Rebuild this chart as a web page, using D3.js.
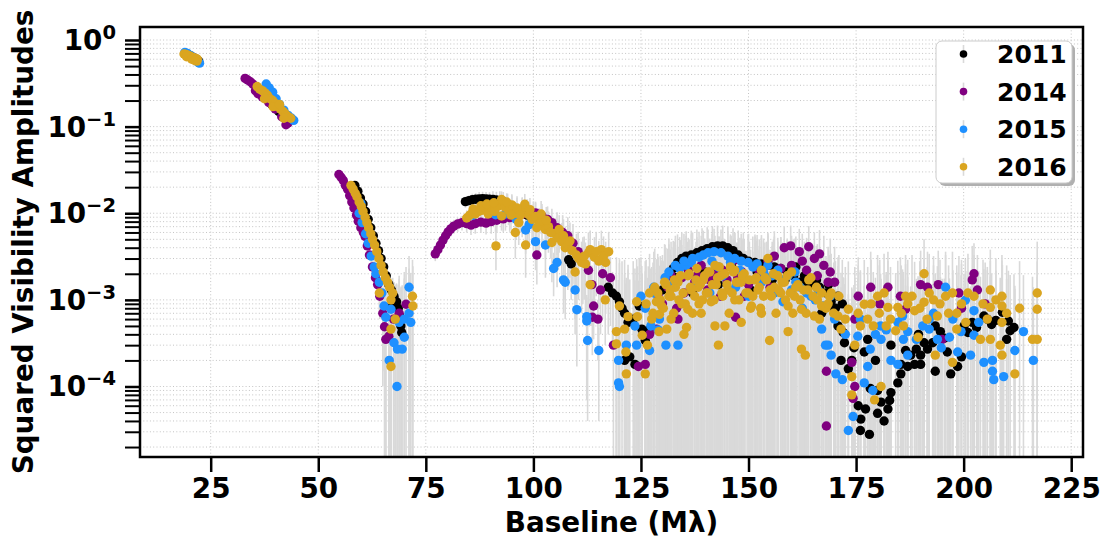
<!DOCTYPE html>
<html>
<head>
<meta charset="utf-8">
<script src="https://cdn.jsdelivr.net/npm/d3@7"></script>
<style>
  body { margin: 0; background: #fff; }
  text { font-family: "DejaVu Sans", sans-serif; font-weight: bold; fill: #000; }
</style>
</head>
<body>
<svg id="chart" width="1106" height="544"></svg>
<script>
// each point: [baseline (Mlambda), squared visibility, error]
const years = ["2011", "2014", "2015", "2016"];
const yearColors = ["#000000", "#800080", "#1e90ff", "#daa520"];
const xTicks = [25, 50, 75, 100, 125, 150, 175, 200, 225];
const yMajor = [1e-4, 1e-3, 1e-2, 1e-1, 1];
const yExponents = ["\u22124", "\u22123", "\u22122", "\u22121", "0"];

const data2011 = [
[19.3,0.69,0.02],[19.9,0.67,0.02],[20.5,0.65,0.02],[21.1,0.62,0.02],[21.7,0.6,0.02],[22.2,0.57,0.02],
[36.8,0.26,0.01],[37.6,0.23,0.01],[38.4,0.2,0.01],[39.2,0.18,0.01],[40,0.165,0.008],[40.8,0.15,0.008],[41.6,0.14,0.008],[42.4,0.13,0.008],
[58.5,0.021,0.001],[59.2,0.018,0.001],[59.8,0.015,0.001],[60.4,0.0128,0.0008],[61,0.0105,0.0008],[61.6,0.0085,0.0006],[62.2,0.0068,0.0005],[62.8,0.0055,0.0005],[63.4,0.0045,0.0004],[64,0.0037,0.0004],[64.6,0.003,0.0004],[65.2,0.0024,0.0003],[65.8,0.0019,0.0003],[66.4,0.0015,0.0004],[67,0.0013,0.0004],[67.6,0.0011,0.0005],[68.2,0.00095,0.0006],[68.6,0.0008,0.0007],[68.9,0.00065,0.0008],[69.2,0.0005,0.0009],[69.4,0.00042,0.001],[66.9,0.00085,0.0006],
[84.2,0.0136,0.002],[85,0.014,0.002],[85.8,0.0143,0.0025],[86.6,0.0145,0.0025],[87.4,0.0146,0.003],[88.2,0.0147,0.003],[89,0.0146,0.003],[89.8,0.0145,0.003],[90.6,0.0144,0.0035],[91.4,0.0142,0.0035],[92.2,0.014,0.004],[93,0.0136,0.004],[94,0.0128,0.004],[95,0.0121,0.0045],[96.2,0.0112,0.0045],[97.4,0.0103,0.005],[98.6,0.0095,0.005],[100,0.0087,0.005],
[108.2,0.0029,0.0015],[108.8,0.0026,0.0016],[117.4,0.0014,0.001],[118.4,0.0012,0.0009],[119.3,0.0011,0.002],[120,0.00095,0.002],[120.6,0.0008,0.002],[121.2,0.0007,0.0022],[122,0.00055,0.002],[123.2,0.0006,0.0022],[121.2,0.0002,0.0015],[122.4,0.00022,0.0015],[123.6,0.00018,0.0015],[126,0.00034,0.0018],[126.7,0.00044,0.002],[124.6,0.00085,0.0022],[125.2,0.00046,0.002],
[131.5,0.0019,0.0025],[132.5,0.0023,0.0025],[133.5,0.0027,0.003],[134.5,0.003,0.003],[135.5,0.0032,0.003],[136.7,0.0033,0.003],[138,0.0035,0.003],[139.2,0.0037,0.003],[140.4,0.0039,0.003],[141.6,0.0041,0.003],[142.8,0.0042,0.003],[144,0.0042,0.003],[145.2,0.004,0.003],[146.4,0.0037,0.003],[147.6,0.0033,0.003],[148.8,0.003,0.003],[150,0.0028,0.003],[151.5,0.0027,0.003],[153,0.0026,0.003],[154.5,0.0025,0.003],[156,0.0024,0.003],[157.5,0.0023,0.003],[159,0.0021,0.003],[160.5,0.0019,0.003],[162,0.0016,0.0025],[163.5,0.0015,0.0025],[165,0.0015,0.0025],[166.5,0.0014,0.0025],[168,0.0012,0.002],[169.2,0.00095,0.002],[170.2,0.0008,0.002],[137,0.0012,0.0025],[143,0.0015,0.0025],[150.5,0.0013,0.0025],[155.5,0.0017,0.0025],
[130,0.0013,0.002],[133,0.0018,0.0025],[139.8,0.0021,0.003],[146,0.0025,0.003],[152,0.0021,0.003],[158.5,0.0017,0.0025],[161,0.0024,0.003],[163,0.0019,0.0028],[165.8,0.0017,0.0025],[168.6,0.0015,0.0022],[170.8,0.0011,0.002],[171.8,0.0009,0.002],
[167,0.0007,0.0015],[169.2,0.00085,0.0018],[170.8,0.0005,0.0015],[171.5,0.0002,0.0012],[172.3,0.00032,0.0012],[173.2,0.00016,0.001],[174,0.0002,0.001],[175.5,0.00006,0.0009],[176.1,0.000042,0.0008],[176,0.000031,0.0008],[177.2,0.000055,0.0008],[178.1,0.000028,0.0008],[178.3,0.000095,0.0009],[180,0.000049,0.0008],[180,0.00009,0.0009],[180.8,0.000066,0.0009],[181.5,0.00004,0.0008],[182.4,0.000055,0.0009],[182.8,0.000069,0.0009],[183.1,0.000085,0.0009],[184.7,0.00011,0.001],[185.4,0.00014,0.001],[185.4,0.00018,0.001],[187,0.00017,0.001],[187.7,0.00023,0.0012],[188.6,0.00018,0.001],[189,0.00027,0.0012],[190,0.00018,0.001],[190,0.00023,0.0012],[191.6,0.00027,0.0012],[192.8,0.00032,0.0012],[193.4,0.00015,0.001],[194.6,0.00043,0.0014],[196.2,0.00025,0.0012],[197,0.00014,0.001],[198.6,0.00017,0.001],[199.5,0.00022,0.0012],[200.1,0.0005,0.0015],[202,0.00055,0.0015],[204.7,0.00065,0.0016],[205.5,0.0006,0.0016],[206.5,0.00052,0.0015],[210,0.00035,0.0014],[210.4,0.00057,0.0016],[210.8,0.00044,0.0015],[211.7,0.00048,0.0015],[177.7,0.00035,0.0012],[183.1,0.0003,0.0012],[176.9,0.00025,0.0012],[179.5,0.0002,0.001],[190.8,0.00032,0.0012],[193.4,0.0005,0.0015],
[172,0.00042,0.0014],[174.5,0.00028,0.0012],[186.5,0.00026,0.0012],[189.5,0.0004,0.0014],[195.5,0.00036,0.0014],[201,0.00042,0.0014],[203,0.00048,0.0015],[207.5,0.00058,0.0016],[209,0.00072,0.0018]
];

const data2014 = [
[19.5,0.68,0.02],[21,0.62,0.02],
[33,0.36,0.01],[33.6,0.345,0.01],[34.2,0.33,0.01],[34.8,0.31,0.01],[35.4,0.26,0.01],[36,0.24,0.01],[37,0.22,0.01],[38.5,0.19,0.01],[40,0.16,0.008],[41.5,0.13,0.008],[42.5,0.105,0.008],[43,0.11,0.008],
[54.8,0.028,0.001],[55.3,0.026,0.001],[55.8,0.024,0.001],[56.3,0.021,0.001],[56.8,0.019,0.001],[57.3,0.016,0.001],[57.8,0.0135,0.001],[58.3,0.0115,0.0008],[58.9,0.0095,0.0008],[59.3,0.0081,0.0007],[59.9,0.0068,0.0006],[60.5,0.006,0.0006],[60.9,0.0054,0.0005],[61.4,0.0042,0.0005],[61.9,0.0033,0.0004],[62.6,0.0024,0.0004],[63.3,0.0018,0.0004],[63.8,0.0015,0.0004],[64.3,0.0011,0.0005],[65,0.0007,0.0006],[65.4,0.00049,0.0007],[65.7,0.00035,0.0008],[66.4,0.00038,0.0008],[67.5,0.0006,0.001],[68.8,0.0007,0.0012],[70.4,0.00089,0.0015],
[77.2,0.0034,0.0006],[77.8,0.0038,0.0007],[78.4,0.0043,0.0008],[79,0.0049,0.0009],[79.6,0.0055,0.001],[80.2,0.0061,0.0011],[80.8,0.0066,0.0012],[81.5,0.0071,0.0013],[82.4,0.0075,0.0014],[83.4,0.0078,0.0015],[84.5,0.0076,0.0016],[85.5,0.0073,0.0017],[86.5,0.0076,0.0018],[87.8,0.0079,0.002],[89,0.0077,0.002],[90.2,0.008,0.0022],[91.5,0.0083,0.0024],[93,0.0086,0.0026],[94.5,0.0089,0.0028],[96,0.0093,0.003],[97.5,0.0098,0.0032],[99,0.0102,0.0034],[100.5,0.0101,0.0035],[100.8,0.0033,0.0018],[102,0.0093,0.0035],[103.3,0.0085,0.0035],[104.3,0.0078,0.0035],[105.5,0.0068,0.0035],[106.8,0.006,0.0035],[108,0.0055,0.0035],[109.2,0.0045,0.003],[110.4,0.0036,0.0025],[111.5,0.0031,0.0022],[112.8,0.0022,0.0015],[113.6,0.0015,0.001],[113.7,0.00063,0.0004],[114,0.00085,0.0005],[115,0.0006,0.0004],[115.6,0.0013,0.0009],[116.1,0.002,0.0014],[117.9,0.0018,0.0013],[118.6,0.0003,0.0015],
[124.4,0.00017,0.0015],[126,0.00018,0.0015],[127,0.0004,0.0018],[128.6,0.00046,0.0018],[130,0.0009,0.002],[131.2,0.0014,0.0025],[133.3,0.0008,0.002],[133.6,0.0006,0.002],[134.5,0.0018,0.0025],[136,0.0022,0.003],[137.5,0.0016,0.0025],[139,0.0025,0.003],[140.5,0.0013,0.0025],[142,0.002,0.003],[143.5,0.0011,0.0025],[145,0.0017,0.0025],[146.8,0.0029,0.003],[147,0.00063,0.002],[148.5,0.0021,0.003],[150,0.0015,0.0025],[151.5,0.0024,0.003],[153,0.0018,0.003],[154.5,0.0028,0.003],[156,0.0032,0.003],[157.5,0.0023,0.003],[158.3,0.004,0.003],[159.8,0.0042,0.003],[161.8,0.0036,0.003],[162.5,0.0028,0.003],[164,0.0041,0.003],[165.3,0.003,0.003],[166.5,0.0034,0.003],[166,0.0019,0.0025],[168.1,0.000035,0.0006],[168.1,0.00015,0.0012],[168.5,0.0016,0.0025],[170,0.0016,0.0025],
[129,0.0011,0.002],[132,0.0019,0.0028],[135,0.0012,0.0022],[138,0.0019,0.0028],[141,0.0017,0.0025],[144,0.0022,0.003],[147.5,0.0018,0.0028],[149,0.0011,0.002],[152.5,0.002,0.003],[155,0.0014,0.0022],[160,0.0025,0.003],[163.5,0.0022,0.003],[167.5,0.0025,0.003],[169,0.0021,0.003],
[174,0.00019,0.0012],[174.7,0.0001,0.001],[174.3,0.000073,0.0009],[174.7,0.0006,0.0018],[175.5,0.0011,0.002],[178.4,0.0014,0.0022],[180.5,0.0009,0.002],[182.4,0.0014,0.0022],[185.3,0.0011,0.002],[186.5,0.00078,0.0018],[190,0.0015,0.0022],[191.6,0.0014,0.0022],[194.1,0.0015,0.0022],[195,0.00035,0.0014],[198.9,0.0012,0.002],[199.5,0.0008,0.0018],[202,0.0017,0.0025],[202.4,0.002,0.0025],[203.2,0.0013,0.002],[205,0.0009,0.0018]
];

const data2015 = [
[19,0.72,0.02],[19.6,0.7,0.02],[20.3,0.66,0.02],[21,0.62,0.02],[21.6,0.59,0.02],[22.1,0.55,0.02],[22.4,0.54,0.02],
[37.9,0.31,0.01],[38.6,0.28,0.01],[39.4,0.25,0.01],[40.2,0.21,0.01],[41,0.18,0.008],[42,0.155,0.008],[43,0.135,0.008],[43.8,0.125,0.008],[44.3,0.118,0.008],
[59.5,0.01,0.0008],[59.9,0.013,0.001],[60.2,0.0078,0.0007],[61,0.0058,0.0006],[61.6,0.0045,0.0005],[62.3,0.0032,0.0005],[63,0.0024,0.0005],[63.4,0.002,0.0005],[64.2,0.0016,0.0005],[64.8,0.0012,0.0006],[65.3,0.00085,0.0007],[65.7,0.00063,0.0008],[66.5,0.0002,0.0008],[66.9,0.00078,0.001],[67.6,0.00032,0.001],[68.3,0.0001,0.0007],[68.4,0.00027,0.001],[68.8,0.00055,0.0012],[69.5,0.00027,0.0012],[70,0.0006,0.0015],[70,0.00037,0.0014],[71.1,0.0014,0.0018],[71.1,0.0007,0.0016],[71.5,0.00055,0.0015],
[86,0.0095,0.003],[90,0.0105,0.0035],[91.2,0.0096,0.0035],[93.5,0.0098,0.0035],[96,0.0085,0.0035],[98.2,0.0064,0.003],[99,0.0074,0.003],[100.5,0.0047,0.0025],[102.8,0.0043,0.0025],[104.7,0.0023,0.0012],[105.5,0.0027,0.0013],[107,0.0017,0.001],[107.4,0.0016,0.001],[109.7,0.0013,0.0009],[110.1,0.00077,0.0006],[112.4,0.00064,0.0005],[112.4,0.00057,0.0005],[112.6,0.00034,0.0003],[115.2,0.00026,0.00022],
[119.8,0.0002,0.0015],[119.8,0.00011,0.0012],[120,0.0001,0.0012],[121.6,0.0003,0.0015],[123.6,0.0005,0.0018],[124,0.0003,0.0015],[127,0.00026,0.0015],[127.3,0.0005,0.0018],[128,0.0012,0.0022],[128,0.0014,0.0022],[129.3,0.0006,0.0018],[130.6,0.0018,0.0025],[130.8,0.0003,0.0015],[133.6,0.0003,0.0015],[134,0.0023,0.003],[135.5,0.0025,0.003],[136.7,0.0027,0.003],[138.5,0.0031,0.003],[140.6,0.0035,0.003],[142,0.0036,0.003],[143.6,0.0035,0.003],[145.2,0.0032,0.003],[146.8,0.003,0.003],[148.3,0.0028,0.003],[149.9,0.0027,0.003],[152,0.0026,0.003],[154.5,0.0025,0.003],[156.8,0.0022,0.003],[159.2,0.0019,0.0028],[161,0.0016,0.0025],[163.5,0.0012,0.0022],[165.5,0.001,0.002],[167.4,0.00085,0.002],[167.9,0.0003,0.0015],[170.3,0.00014,0.0012],[138,0.0016,0.0025],[141,0.0012,0.0025],[144,0.0019,0.0025],[147,0.0014,0.0025],[150,0.0011,0.0022],[153,0.0016,0.0025],[156,0.0012,0.0022],[158,0.00095,0.002],[160,0.0013,0.0022],[162.5,0.0008,0.002],
[131.5,0.0021,0.003],[132.5,0.0015,0.0025],[133,0.0025,0.003],[135,0.0028,0.003],[137,0.003,0.003],[139.5,0.0033,0.003],[141.5,0.0028,0.003],[143,0.0024,0.003],[145.8,0.0027,0.003],[148,0.0022,0.003],[151,0.0024,0.003],[153.5,0.0021,0.003],[155.5,0.0019,0.0028],[158,0.0017,0.0025],[160.8,0.0021,0.003],[162,0.0014,0.0022],[164.5,0.0011,0.002],[166.2,0.0013,0.0022],[169,0.0011,0.002],[126,0.0008,0.002],[125,0.0011,0.002],[129,0.00045,0.0016],
[167,0.00046,0.0015],[168.5,0.0003,0.0013],[169.2,0.00023,0.0012],[171.8,0.00012,0.001],[173.2,0.000031,0.0008],[174.3,0.000045,0.0008],[175.4,0.00038,0.0014],[176.9,0.00011,0.001],[177.7,0.00017,0.0011],[178.3,0.00027,0.0012],[178.9,0.00009,0.001],[180.7,0.0005,0.0015],[180.8,0.00035,0.0014],[183.1,0.0002,0.0012],[184.7,0.00055,0.0016],[184.7,0.00018,0.0011],[185.8,0.00065,0.0016],[187,0.00023,0.0012],[187,0.00043,0.0014],[189,0.00035,0.0014],[192,0.00046,0.0015],[192,0.0006,0.0016],[193.9,0.00035,0.0014],[194.8,0.00028,0.0012],[195.8,0.0014,0.0022],[196.7,0.00037,0.0014],[198.6,0.00025,0.0012],[199.4,0.00043,0.0015],[200.4,0.00099,0.002],[201.6,0.00023,0.0012],[202.4,0.00075,0.0018],[202.4,0.00039,0.0014],[204.7,0.00019,0.0011],[206.7,0.00015,0.001],[206.7,0.0002,0.0011],[207,0.00012,0.001],[209.3,0.00013,0.001],[211.9,0.00026,0.0012],[213.9,0.00043,0.0015],[216.2,0.0002,0.0012],
[170,0.0006,0.0016],[172.5,0.0004,0.0014],[176,0.0006,0.0016],[179.5,0.0004,0.0014],[182,0.00045,0.0015],[186,0.00035,0.0014],[190.5,0.0005,0.0015],[193,0.0007,0.0018],[197.5,0.0006,0.0016],[203.5,0.00055,0.0016]
];

const data2016 = [
[18.8,0.69,0.02],[19.2,0.68,0.02],[19.6,0.67,0.02],[20,0.66,0.02],[20.4,0.64,0.02],[20.8,0.63,0.02],[21.2,0.62,0.02],[21.6,0.61,0.02],[21.9,0.6,0.02],[21.8,0.57,0.02],[19.4,0.64,0.02],[20.6,0.6,0.02],[21.3,0.58,0.02],
[35.8,0.29,0.01],[36.4,0.27,0.01],[37,0.26,0.01],[37.6,0.245,0.01],[38.2,0.23,0.01],[38.8,0.21,0.01],[39.4,0.2,0.01],[40,0.185,0.01],[40.6,0.17,0.008],[41.2,0.16,0.008],[41.8,0.15,0.008],[42.4,0.14,0.008],[43,0.13,0.008],[43.6,0.125,0.008],[37.5,0.21,0.01],[39.5,0.17,0.01],[41,0.18,0.008],[42,0.125,0.008],
[57.6,0.021,0.001],[58.1,0.019,0.001],[58.6,0.017,0.001],[59,0.0155,0.001],[59.5,0.0135,0.001],[60,0.012,0.0009],[60.4,0.0105,0.0008],[60.9,0.009,0.0007],[61.3,0.0078,0.0006],[61.7,0.0068,0.0006],[62.2,0.0058,0.0005],[62.6,0.005,0.0005],[63.1,0.0043,0.0005],[63.6,0.0036,0.0004],[64.1,0.003,0.0004],[64.6,0.0025,0.0004],[65.1,0.0021,0.0004],[65.6,0.0018,0.0004],[66.1,0.0016,0.0005],[66.6,0.0014,0.0005],[64.2,0.0012,0.0005],[66.9,0.001,0.0006],[67.3,0.0012,0.0006],[67.9,0.0006,0.0009],[66.9,0.00046,0.0009],[66.9,0.00017,0.0007],[71.9,0.0011,0.0018],[72,0.00085,0.0016],
[84.5,0.0088,0.002],[85.2,0.0095,0.002],[85.8,0.0101,0.0022],[86.5,0.0098,0.0022],[87.2,0.0104,0.0025],[88,0.0108,0.0025],[88.9,0.0112,0.0028],[89.5,0.0098,0.0028],[90.3,0.0116,0.003],[91,0.0105,0.003],[91.3,0.0042,0.002],[91.8,0.0121,0.0032],[92.6,0.0144,0.0035],[92.6,0.0093,0.003],[93.4,0.0118,0.0035],[94.2,0.0108,0.0035],[95,0.0125,0.0035],[95.8,0.01,0.0035],[95.8,0.006,0.003],[96.6,0.0078,0.0035],[97.4,0.0112,0.0038],[98,0.0127,0.004],[98.2,0.0043,0.0025],[98.9,0.0096,0.004],[99.7,0.0085,0.004],[100.5,0.0092,0.004],[101.3,0.0075,0.004],[102,0.008,0.004],[102.8,0.0065,0.0035],[103.5,0.007,0.0035],[104.3,0.0046,0.003],[105,0.0058,0.003],[105.8,0.0052,0.003],[106.6,0.0047,0.003],[107.4,0.004,0.003],[108,0.0043,0.003],[109,0.0037,0.0025],[109.7,0.0021,0.0015],[110,0.0033,0.0025],[110.5,0.003,0.002],[111.2,0.0027,0.002],[112.1,0.0026,0.002],[112.8,0.0035,0.0025],[113.2,0.0038,0.0025],[113.2,0.0015,0.001],[114.2,0.0031,0.0022],[115.2,0.0028,0.002],[115.8,0.0038,0.0025],[116.3,0.0032,0.0022],[116.7,0.001,0.0007],[117.5,0.0036,0.0025],[119.3,0.00043,0.0015],[119.3,0.00031,0.0014],[120,0.00085,0.0018],[121.2,0.00046,0.0015],[121.6,0.00014,0.0012],[122,0.00064,0.0016],[121.5,0.00025,0.0013],[126,0.00014,0.0012],
[86,0.0112,0.0025],[87.8,0.0122,0.003],[89.2,0.0128,0.003],[90.8,0.0132,0.0035],[93.8,0.0135,0.0035],[94.8,0.0095,0.003],[96.2,0.0115,0.0035],[97,0.0095,0.0035],[99.2,0.011,0.004],[100.8,0.0068,0.003],[101.8,0.0098,0.004],[103,0.0083,0.0035],[104,0.006,0.003],[106,0.0065,0.003],[107,0.0055,0.003],[108.5,0.0048,0.003],[111.8,0.0032,0.0022],[114.6,0.0036,0.0025],[116.8,0.0027,0.002],
[124,0.00095,0.002],[124.2,0.00064,0.0018],[125.3,0.00039,0.0016],[126.5,0.0003,0.0015],[127.5,0.0006,0.0018],[128.6,0.00095,0.002],[128.9,0.0012,0.0022],[129.3,0.00068,0.0018],[129.2,0.00043,0.0016],[129.8,0.00085,0.002],[130.8,0.0015,0.0025],[131,0.00046,0.0016],[131.5,0.0011,0.0022],[132,0.0011,0.0022],[132,0.0006,0.0018],[133,0.0014,0.0025],[133.6,0.0016,0.0025],[134.5,0.0009,0.002],[135,0.0004,0.0016],[135.6,0.00048,0.0016],[135.9,0.0019,0.0028],[135.9,0.00078,0.002],[136.7,0.0013,0.0025],[137.5,0.0011,0.0022],[138.3,0.0014,0.0025],[138.5,0.0009,0.002],[139,0.0007,0.002],[139.5,0.0017,0.0028],[140.6,0.0021,0.003],[140.6,0.0012,0.0025],[141.3,0.00095,0.0022],[142.2,0.0025,0.003],[142.2,0.0005,0.0018],[142.5,0.0015,0.0025],[143,0.0003,0.0015],[143.6,0.0019,0.003],[144,0.0011,0.0022],[144.5,0.0005,0.0018],[145.2,0.0013,0.0025],[145.8,0.0024,0.003],[146.8,0.0022,0.003],[146.8,0.001,0.0022],[147.5,0.0016,0.0025],[148.3,0.0016,0.0025],[148.3,0.00055,0.0018],[149,0.002,0.003],[149.9,0.0012,0.0025],[150.7,0.00085,0.002],[151.5,0.0017,0.0028],[152.2,0.0013,0.0025],[153,0.0022,0.003],[153,0.0007,0.002],[153.8,0.0018,0.0028],[154.5,0.003,0.003],[154.9,0.00034,0.0015],[155.3,0.0011,0.0022],[156,0.0014,0.0025],[156.8,0.0019,0.0028],[157.5,0.0012,0.0025],[158.3,0.0016,0.0025],[159.2,0.00085,0.002],[159.2,0.00043,0.0016],[160,0.0021,0.003],[160.7,0.0011,0.0022],[161.5,0.0015,0.0025],[162.3,0.00078,0.002],[162.3,0.00027,0.0015],[163.2,0.00023,0.0014],[163.8,0.0013,0.0025],[164.5,0.0018,0.0028],[165.3,0.00065,0.0018],[166,0.001,0.0022],[167,0.00085,0.002],[167,0.0012,0.0022],
[126.2,0.0009,0.002],[127,0.0012,0.0022],[127.8,0.0007,0.002],[128.2,0.0014,0.0025],[129.5,0.001,0.0022],[130.2,0.0008,0.002],[130.5,0.0016,0.0028],[131.8,0.0013,0.0025],[132.6,0.0007,0.002],[132.8,0.0017,0.003],[133.8,0.001,0.0022],[134.2,0.0019,0.003],[134.8,0.0012,0.0025],[135.3,0.0009,0.0022],[136.2,0.002,0.003],[136.5,0.0014,0.0025],[137,0.0007,0.002],[137.8,0.0017,0.003],[138,0.0023,0.003],[138.8,0.0015,0.0028],[139.3,0.001,0.0022],[139.8,0.0019,0.003],[140.2,0.0012,0.0025],[141,0.0021,0.003],[141.6,0.0015,0.0028],[142,0.001,0.0022],[142.8,0.0018,0.003],[143.2,0.0024,0.003],[143.8,0.0012,0.0025],[144.5,0.002,0.003],[145,0.0015,0.0028],[145.5,0.0007,0.002],[146.2,0.0012,0.0025],[146.5,0.0021,0.003],[147.2,0.0016,0.003],[147.8,0.001,0.0022],[148.6,0.0019,0.003],[149.4,0.0012,0.0025],[150.2,0.0017,0.003],[150.5,0.0008,0.002],[151,0.0011,0.0025],[151.8,0.0018,0.003],[152.5,0.0014,0.0028],[152.8,0.0008,0.002],[153.5,0.0011,0.0025],[154.2,0.0017,0.003],[155,0.0013,0.0025],[155.8,0.002,0.003],[156.4,0.0007,0.002],[157,0.0013,0.0025],[157.8,0.0016,0.003],[158.6,0.001,0.0022],[159,0.0019,0.003],[159.7,0.0012,0.0025],[160.3,0.0007,0.002],[161,0.0014,0.0028],[162,0.001,0.0022],[162.8,0.0013,0.0025],[163.4,0.0007,0.002],[164,0.0017,0.003],[165,0.0011,0.0025],[165.8,0.0014,0.0028],[166.5,0.0006,0.0018],[168,0.0008,0.002],[168.8,0.0011,0.0022],[169.8,0.0007,0.002],
[169.2,0.0012,0.0022],[170.8,0.00065,0.0018],[171.5,0.00046,0.0016],[173.2,0.00078,0.002],[174.7,0.0003,0.0015],[174,0.00013,0.0012],[174,0.00008,0.001],[176.9,0.00089,0.002],[177.7,0.0006,0.0018],[179.3,0.00007,0.001],[180,0.0011,0.0022],[180.4,0.0007,0.0018],[180.8,0.0001,0.0011],[182,0.0005,0.0016],[182.4,0.00082,0.002],[184.2,0.00044,0.0016],[184.7,0.00082,0.002],[186.5,0.0011,0.0022],[187,0.0009,0.002],[188.6,0.00075,0.002],[189.4,0.00037,0.0015],[190.8,0.002,0.003],[190.8,0.00094,0.002],[191.5,0.0006,0.0018],[193,0.001,0.0022],[193.4,0.00023,0.0013],[193.9,0.00065,0.0018],[195.8,0.0011,0.0022],[197.4,0.0012,0.0024],[197.4,0.00019,0.0012],[198.4,0.0007,0.0018],[198.4,0.00046,0.0016],[200.5,0.00055,0.0016],[202.4,0.0011,0.0022],[203.9,0.00035,0.0015],[206.2,0.0013,0.0025],[206.2,0.00082,0.002],[206.2,0.00035,0.0015],[208.9,0.0011,0.0022],[208.9,0.00085,0.002],[208.9,0.00055,0.0018],[208.5,0.0003,0.0015],[208.9,0.00023,0.0014],[211.9,0.00014,0.0012],[213,0.0008,0.002],[216,0.00035,0.0015],[217.1,0.00035,0.0015],[217.1,0.0012,0.0035],[217.1,0.00078,0.002],
[168.5,0.0009,0.002],[171,0.0011,0.0022],[172.5,0.0006,0.0018],[175.5,0.0007,0.0018],[176,0.0005,0.0016],[178.5,0.0009,0.002],[179,0.0005,0.0016],[181.5,0.0012,0.0022],[183,0.0006,0.0018],[185.5,0.0007,0.0018],[186,0.0005,0.0016],[188,0.0011,0.0022],[189.8,0.0008,0.002],[192,0.0012,0.0022],[194.5,0.0009,0.002],[196.5,0.0007,0.0018],[199.5,0.0009,0.002],[201,0.0012,0.0022],[204.5,0.0009,0.002],[205.5,0.0006,0.0018],[207.5,0.001,0.002],[210,0.0007,0.0018]
];

const series = [data2011, data2014, data2015, data2016];

const width = 1106;
const height = 544;
const marginTop = 27;
const marginRight = 23;
const marginBottom = 87;
const marginLeft = 140;

const svg = d3.select("#chart");

const x = d3.scaleLinear()
    .domain([8.57, 227.74])
    .range([marginLeft, width - marginRight]);

const y = d3.scaleLog()
    .domain([Math.pow(10, -4.814), Math.pow(10, 0.15)])
    .range([height - marginBottom, marginTop]);

const [yLo, yHi] = y.domain();
const yAll = y.ticks().filter(t => t >= yLo && t <= yHi);

// grid
const grid = svg.append("g");
grid.selectAll(".hgrid")
    .data(yAll)
    .enter().append("line")
    .attr("x1", marginLeft).attr("x2", width - marginRight)
    .attr("y1", d => y(d)).attr("y2", d => y(d))
    .attr("stroke", "#c4c4c4")
    .attr("stroke-width", 1)
    .attr("stroke-dasharray", "1,2.3");
grid.selectAll(".vgrid")
    .data(xTicks)
    .enter().append("line")
    .attr("x1", d => x(d)).attr("x2", d => x(d))
    .attr("y1", marginTop).attr("y2", height - marginBottom)
    .attr("stroke", "#c4c4c4")
    .attr("stroke-width", 1)
    .attr("stroke-dasharray", "1,2.3");

svg.append("clipPath").attr("id", "plotclip")
  .append("rect")
    .attr("x", marginLeft).attr("y", marginTop)
    .attr("width", width - marginLeft - marginRight)
    .attr("height", height - marginTop - marginBottom);

const plot = svg.append("g").attr("clip-path", "url(#plotclip)");

// error bars go underneath all the markers
const errLayer = plot.append("g");
const dotLayer = plot.append("g");

series.forEach((pts, i) => {
    errLayer.append("g").selectAll("line")
        .data(pts)
        .enter().append("line")
        .attr("x1", d => x(d[0])).attr("x2", d => x(d[0]))
        .attr("y1", d => y(Math.max(d[1] - d[2], yLo * 0.5)))
        .attr("y2", d => y(d[1] + d[2]))
        .attr("stroke", "#d9d9d9")
        .attr("stroke-width", 1.6);
    dotLayer.append("g").selectAll("circle")
        .data(pts)
        .enter().append("circle")
        .attr("cx", d => x(d[0]))
        .attr("cy", d => y(d[1]))
        .attr("r", 4.7)
        .attr("fill", yearColors[i]);
});

// x axis
const xAxis = svg.append("g")
    .attr("transform", `translate(0,${height - marginBottom})`)
    .call(d3.axisBottom(x).tickValues(xTicks).tickSize(15).tickPadding(6).tickFormat(d3.format("d")));
xAxis.select(".domain").remove();
xAxis.selectAll(".tick line").attr("stroke", "#000").attr("stroke-width", 2.5);
xAxis.selectAll(".tick text")
    .attr("font-size", "27.8px")
    .attr("font-family", "DejaVu Sans")
    .attr("font-weight", "bold")
    .attr("fill", "#000");

// y axis ticks (major + minor, same length)
const yAxis = svg.append("g")
    .attr("transform", `translate(${marginLeft},0)`)
    .call(d3.axisLeft(y).tickValues(yAll).tickSize(15).tickFormat(""));
yAxis.select(".domain").remove();
yAxis.selectAll(".tick line")
    .attr("stroke", "#000")
    .attr("stroke-width", d => yMajor.includes(d) ? 2.5 : 2);

const yLabels = svg.append("g");
yMajor.forEach((v, i) => {
    const t = yLabels.append("text")
        .attr("x", marginLeft - 24)
        .attr("y", y(v) + 10)
        .attr("text-anchor", "end")
        .attr("font-size", "27.8px");
    t.append("tspan").text("10");
    t.append("tspan").attr("dy", -11).attr("font-size", "19.5px").text(yExponents[i]);
});

// axis labels
svg.append("text")
    .attr("x", (marginLeft + width - marginRight) / 2)
    .attr("y", 532)
    .attr("text-anchor", "middle")
    .attr("font-size", "27.8px")
    .text("Baseline (M\u03bb)");

svg.append("text")
    .attr("transform", `translate(33,${(marginTop + height - marginBottom) / 2}) rotate(-90)`)
    .attr("text-anchor", "middle")
    .attr("font-size", "27.8px")
    .text("Squared Visibility Amplitudes");

// frame
svg.append("rect")
    .attr("x", marginLeft).attr("y", marginTop)
    .attr("width", width - marginLeft - marginRight)
    .attr("height", height - marginTop - marginBottom)
    .attr("fill", "none")
    .attr("stroke", "#000")
    .attr("stroke-width", 2.5);

// legend
const legend = svg.append("g").attr("transform", "translate(936,41)");
legend.append("rect")
    .attr("x", 3).attr("y", 3)
    .attr("width", 136).attr("height", 142)
    .attr("rx", 6)
    .attr("fill", "#b0b0b0");
legend.append("rect")
    .attr("width", 136).attr("height", 142)
    .attr("rx", 6)
    .attr("fill", "#fff")
    .attr("stroke", "#cccccc")
    .attr("stroke-width", 1);

const rows = legend.selectAll(".row")
    .data(years)
    .enter().append("g")
    .attr("transform", (d, i) => `translate(0,${13 + i * 37.6})`);
rows.append("line")
    .attr("x1", 27.5).attr("x2", 27.5)
    .attr("y1", -9).attr("y2", 9)
    .attr("stroke", "#d9d9d9")
    .attr("stroke-width", 1.6);
rows.append("circle")
    .attr("cx", 27.5).attr("cy", 0)
    .attr("r", 3.8)
    .attr("fill", (d, i) => yearColors[i]);
rows.append("text")
    .attr("x", 61)
    .attr("y", 9)
    .attr("font-size", "25px")
    .text(d => d);
</script>
</body>
</html>
